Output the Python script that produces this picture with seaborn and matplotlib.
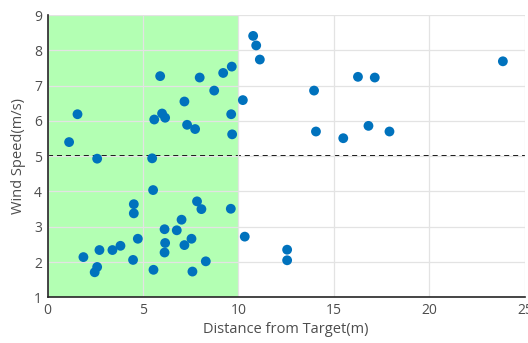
import matplotlib
matplotlib.use("Agg")
import matplotlib.pyplot as plt
import seaborn as sns
import pandas as pd

distance = [1.13, 1.57, 2.6, 5.48, 5.59, 5.9, 6.0, 6.16, 7.17, 7.31, 7.73, 7.97, 8.73, 9.2, 9.65,
            9.62, 9.67, 10.23, 10.77, 10.93, 11.12,
            13.96, 14.06, 15.49, 16.26, 17.14, 16.81, 17.91, 23.85,
            5.53, 4.52, 4.52, 7.83, 8.06, 9.6, 7.02, 6.13, 6.77, 4.73, 7.54, 10.33, 6.16, 7.17,
            3.82, 3.4, 2.72, 6.13, 1.88, 4.48, 8.29, 2.6, 2.47, 5.55, 7.59,
            12.55, 12.55]
wind_speed = [5.40, 6.19, 4.93, 4.94, 6.04, 7.27, 6.21, 6.09, 6.55, 5.89, 5.77, 7.23, 6.86, 7.36, 7.54,
              6.19, 5.62, 6.59, 8.41, 8.14, 7.74,
              6.86, 5.70, 5.51, 7.25, 7.23, 5.86, 5.70, 7.69,
              4.04, 3.64, 3.38, 3.72, 3.50, 3.51, 3.20, 2.93, 2.90, 2.66, 2.66, 2.72, 2.54, 2.48,
              2.46, 2.34, 2.34, 2.27, 2.14, 2.06, 2.02, 1.86, 1.71, 1.78, 1.73,
              2.35, 2.05]
zone_x = [0, 10]
threshold = 5
x_ticks = [0, 5, 10, 15, 20, 25]
y_ticks = [1, 2, 3, 4, 5, 6, 7, 8, 9]

df = pd.DataFrame({"Distance": distance, "Wind": wind_speed})

sns.set_theme(style="whitegrid")
plt.rcParams["font.family"] = ["Open Sans", "DejaVu Sans"]

fig = plt.figure(figsize=(5.28, 3.43), dpi=100)
ax = fig.add_axes([0.0900, 0.1332, 0.9040, 0.8228])

ax.axvspan(zone_x[0], zone_x[1], ymin=0, ymax=1, color=(0.7, 1.0, 0.7), zorder=0.5, lw=0)
ax.axhline(threshold, color="black", ls=(0, (2.6, 2.0)), lw=1.4, zorder=2)

sns.scatterplot(data=df, x="Distance", y="Wind", ax=ax, color="#0072BD", s=50,
                edgecolor="none", zorder=3)

ax.set_xlim(0, 25)
ax.set_ylim(1, 9)
ax.set_xticks(x_ticks)
ax.set_yticks(y_ticks)
ax.grid(True, color="#e3e3e3", lw=0.9, zorder=1)
ax.set_axisbelow(False)
for line in ax.get_xgridlines() + ax.get_ygridlines():
    line.set_zorder(1)

for side in ["top", "right"]:
    ax.spines[side].set_visible(False)
for side in ["left", "bottom"]:
    ax.spines[side].set_color("#262626")
    ax.spines[side].set_linewidth(1.2)
    ax.spines[side].set_zorder(4)

ax.tick_params(axis="both", direction="in", length=4, width=1, color="#262626",
               labelsize=10, labelcolor="#4d4d4d", pad=4)
ax.set_xlabel("Distance from Target(m)", fontsize=10.5, color="#4d4d4d", labelpad=3)
ax.set_ylabel("Wind Speed(m/s)", fontsize=10.5, color="#4d4d4d", labelpad=6)

fig.savefig("out.png", dpi=100)
